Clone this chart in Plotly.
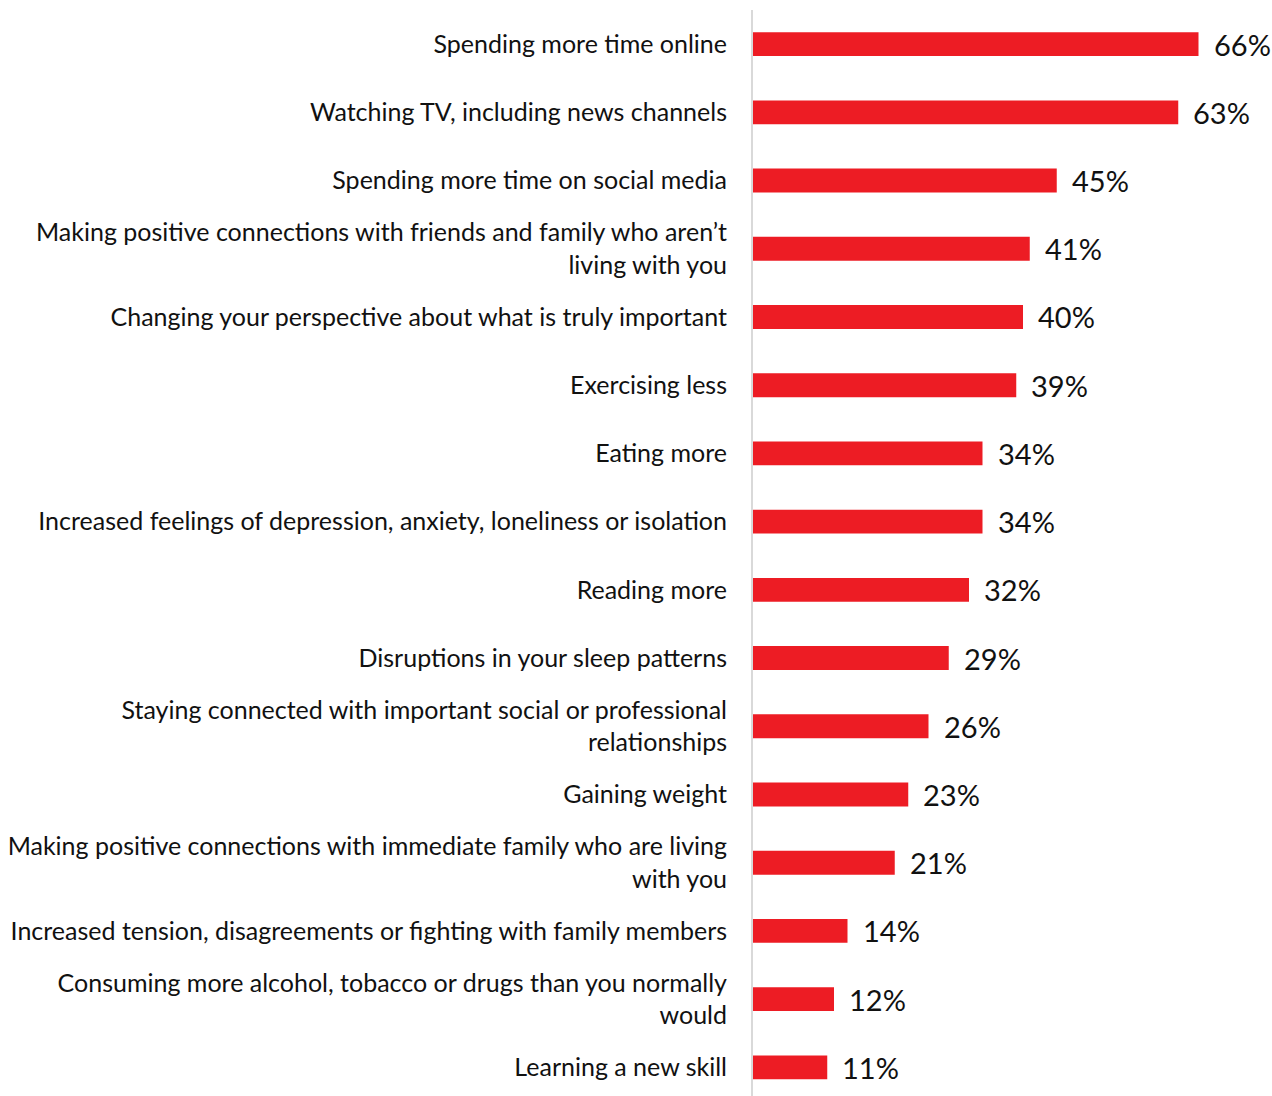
import plotly.graph_objects as go

# Survey items and share of respondents (%)
categories = [
    "Spending more time online",
    "Watching TV, including news channels",
    "Spending more time on social media",
    "Making positive connections with friends and family who aren’t<br>living with you",
    "Changing your perspective about what is truly important",
    "Exercising less",
    "Eating more",
    "Increased feelings of depression, anxiety, loneliness or isolation",
    "Reading more",
    "Disruptions in your sleep patterns",
    "Staying connected with important social or professional<br>relationships",
    "Gaining weight",
    "Making positive connections with immediate family who are living<br>with you",
    "Increased tension, disagreements or fighting with family members",
    "Consuming more alcohol, tobacco or drugs than you normally<br>would",
    "Learning a new skill",
]
values = [66, 63, 45, 41, 40, 39, 34, 34, 32, 29, 26, 23, 21, 14, 12, 11]
value_labels = [f"{v}%" for v in values]

FONT = "Lato"
BAR_RED = "#ED1C24"

fig = go.Figure(
    go.Bar(
        x=values,
        y=categories,
        orientation="h",
        marker=dict(color=BAR_RED, line=dict(width=0)),
        width=0.35,
        hoverinfo="skip",
    )
)

# value labels placed just past each bar end
for cat, v, lab in zip(categories, values, value_labels):
    fig.add_annotation(
        x=v, y=cat, text=lab, showarrow=False,
        xanchor="left", yanchor="middle", xshift=13,
        font=dict(family=FONT, size=29, color="#111111"),
    )

fig.update_layout(
    width=1272,
    height=1096,
    margin=dict(l=753, r=6, t=10, b=0),
    paper_bgcolor="white",
    plot_bgcolor="white",
    showlegend=False,
    font=dict(family=FONT, size=25, color="#111111"),
    xaxis=dict(range=[0, 76], visible=False, fixedrange=True),
    yaxis=dict(
        range=[15.42, -0.5],
        showline=True,
        linecolor="#d9d9d9",
        linewidth=2,
        showgrid=False,
        ticks="",
        ticklabelstandoff=19,
        tickfont=dict(family=FONT, size=25, color="#111111"),
        fixedrange=True,
    ),
)

fig.write_html("out.html")
